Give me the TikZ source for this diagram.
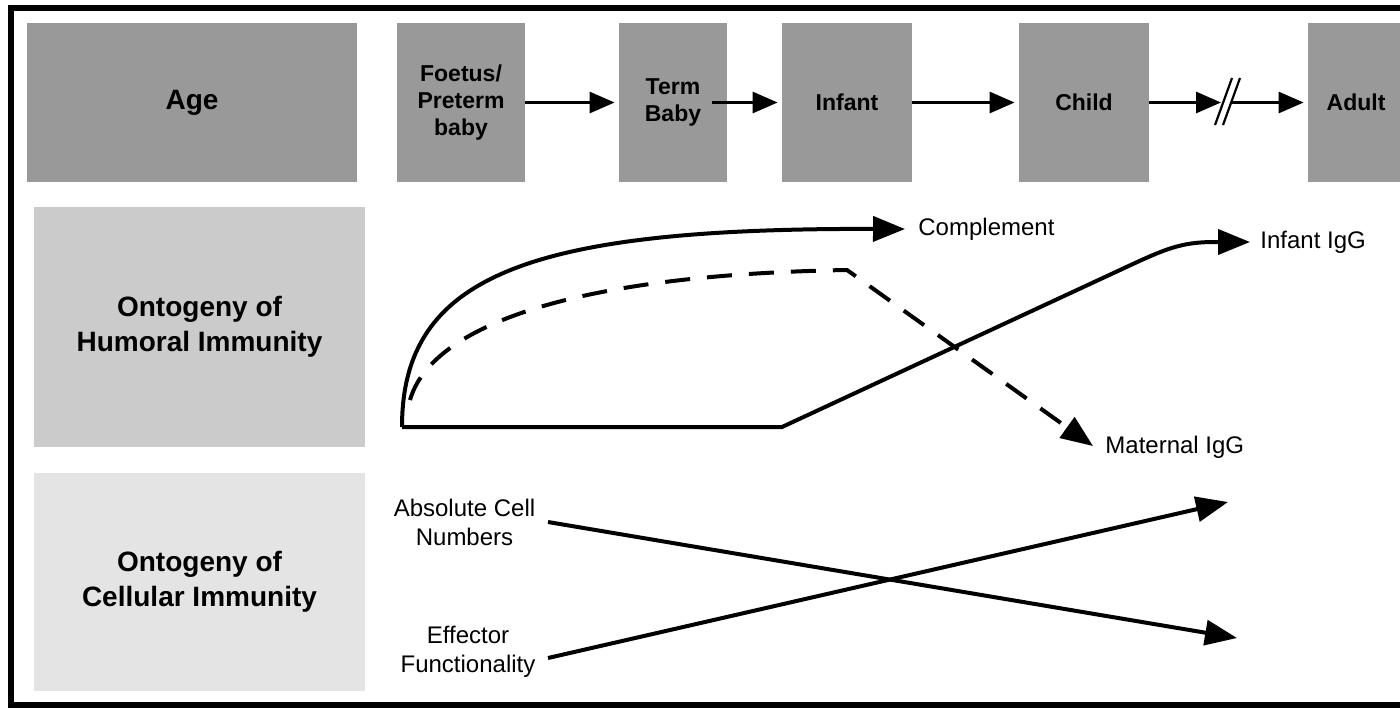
\documentclass[tikz,border=0pt]{standalone}
\usepackage{fontspec}
\setmainfont{Liberation Sans}
\usetikzlibrary{arrows.meta}
\definecolor{ageg}{HTML}{999999}
\definecolor{humg}{HTML}{CBCBCB}
\definecolor{celg}{HTML}{E4E4E4}
\begin{document}
\begin{tikzpicture}[x=0.5pt,y=-0.5pt,
  agebox/.style={fill=ageg, inner sep=0pt, minimum height=79.5pt, align=center,
    font=\bfseries\fontsize{11.5}{13.6}\selectfont},
  rowbox/.style={inner sep=0pt, minimum width=165.5pt, align=center,
    font=\bfseries\fontsize{14}{17.5}\selectfont},
  lbl/.style={inner sep=0pt, align=center, font=\fontsize{12}{14.5}\selectfont},
  stagearrow/.style={line width=1.5pt, -{Triangle[length=12.5pt,width=10.5pt]}, shorten >=2pt},
  curvearrow/.style={line width=2pt, -{Triangle[length=16pt,width=12.5pt]}},
  brkline/.style={line width=1.1pt}
]
\useasboundingbox (0,0) rectangle (1400,707);
\draw[line width=3pt] (11,7.5) rectangle (1430,705);

% Age row
\node[rowbox, fill=ageg, minimum width=165pt, minimum height=79.5pt] (age) at (192,102.5) {Age};
\node[agebox, minimum width=64pt] (foetus) at (461,102.5) {Foetus/\\Preterm\\baby};
\node[agebox, minimum width=54pt] (term) at (673,102.5) {Term\\Baby};
\node[agebox, minimum width=65pt] (infant) at (847,102.5) {Infant};
\node[agebox, minimum width=65pt] (child) at (1084,102.5) {Child};
\node[agebox, minimum width=48pt] (adult) at (1356,102.5) {Adult};

\draw[stagearrow] (foetus.east) -- (term.west);
\draw[stagearrow] ([xshift=-7.5pt]term.east) -- (infant.west);
\draw[stagearrow] (infant.east) -- (child.west);
\coordinate (brkL) at (1221,102.5);
\coordinate (brkR) at (1228,102.5);
\draw[stagearrow, shorten >=0pt] (child.east) -- (brkL);
\draw[stagearrow] (brkR) -- (adult.west);
\fill[white] (1216,124) -- (1232,78) -- (1240,78) -- (1223,125) -- cycle;
\draw[brkline] (1215,125) -- (1232,78);
\draw[brkline] (1223,125) -- (1240,78);

% Humoral row
\node[rowbox, fill=humg, minimum height=120pt] (hum) at (199.5,327) {Ontogeny of\\Humoral Immunity};
\coordinate (O) at (402,427);
\coordinate (kink) at (782,427);
\coordinate (bend) at (1120,270);
\coordinate (flat) at (1215,242);
\coordinate (dStart) at (410,400);
\coordinate (dPeak) at (847,270);
\coordinate (mEnd) at (1093,446);
\node[lbl, anchor=west] (compl) at (918,229) {Complement};
\node[lbl, anchor=west] (iigg) at (1260,242) {Infant IgG};
\node[lbl, anchor=west] (migg) at (1105,447) {Maternal IgG};
\draw[curvearrow] (O) .. controls (402,275) and (530,228) .. ([xshift=-6.5pt]compl.west);
\draw[curvearrow, dash pattern=on 12.5pt off 8.5pt] (dStart) .. controls (430,330) and (560,275) .. (dPeak) -- (mEnd);
\draw[curvearrow] (O) -- (kink) -- (bend) .. controls (1165,249) and (1180,242) .. (flat) -- ([xshift=-5pt]iigg.west);

% Cellular row
\node[rowbox, fill=celg, minimum height=109pt] (cel) at (199.5,582) {Ontogeny of\\Cellular Immunity};
\node[lbl] (abs) at (464.5,522) {Absolute Cell\\Numbers};
\node[lbl] (eff) at (468,652) {Effector\\Functionality};
\coordinate (absS) at (548,522);
\coordinate (absE) at (1237,638);
\coordinate (effS) at (548,658);
\coordinate (effE) at (1228,502);
\draw[curvearrow] (absS) -- (absE);
\draw[curvearrow] (effS) -- (effE);
\end{tikzpicture}
\end{document}
